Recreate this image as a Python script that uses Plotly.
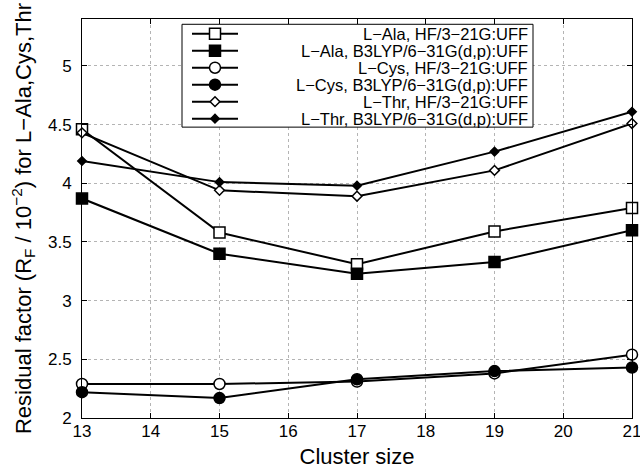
import plotly.graph_objects as go

cluster_size = [13, 15, 17, 19, 21]

ala_hf = [4.46, 3.58, 3.31, 3.59, 3.79]
ala_b3lyp = [3.87, 3.40, 3.23, 3.33, 3.60]
cys_hf = [2.29, 2.29, 2.31, 2.38, 2.54]
cys_b3lyp = [2.22, 2.17, 2.33, 2.40, 2.43]
thr_hf = [4.43, 3.94, 3.89, 4.11, 4.51]
thr_b3lyp = [4.19, 4.01, 3.98, 4.27, 4.61]

series_names = [
    "L\u2212Ala, HF/3\u221221G:UFF",
    "L\u2212Ala, B3LYP/6\u221231G(d,p):UFF",
    "L\u2212Cys, HF/3\u221221G:UFF",
    "L\u2212Cys, B3LYP/6\u221231G(d,p):UFF",
    "L\u2212Thr, HF/3\u221221G:UFF",
    "L\u2212Thr, B3LYP/6\u221231G(d,p):UFF",
]
series_values = [ala_hf, ala_b3lyp, cys_hf, cys_b3lyp, thr_hf, thr_b3lyp]

x_ticks = list(range(13, 22))
y_ticks = [2, 2.5, 3, 3.5, 4, 4.5, 5]

# marker styles (symbol, fill, size)
styles = [
    ("square", "white", 11),
    ("square", "black", 11),
    ("circle", "white", 11),
    ("circle", "black", 11),
    ("diamond", "white", 7.5),
    ("diamond", "black", 6.5),
]

FONT = "Liberation Sans, Arial, Helvetica, sans-serif"

fig = go.Figure()
for name, vals, (sym, fill, size) in zip(series_names, series_values, styles):
    fig.add_trace(go.Scatter(
        x=cluster_size, y=vals, name=name, mode="lines+markers",
        line=dict(color="black", width=2),
        marker=dict(symbol=sym, size=size, color=fill,
                    line=dict(color="black", width=1.5)),
        showlegend=False, cliponaxis=False,
    ))

# custom MATLAB-style legend (right-aligned text) drawn on an overlay axis in [0,1]
W, H = 550.0, 399.6
def px(xp):
    return (xp - 82.0) / W
def py(yp):
    return (418.3 - yp) / H

leg_x0, leg_x1 = px(182), px(533)
leg_y0, leg_y1 = py(127), py(24)
seg_l, seg_m, seg_r = px(192), px(215), px(238)
text_right = px(530)
rows = [py(33.5 + 17 * k) for k in range(6)]

# legend box (white filled, black outline) on the overlay axis
fig.add_trace(go.Scatter(
    x=[leg_x0, leg_x1, leg_x1, leg_x0, leg_x0],
    y=[leg_y0, leg_y0, leg_y1, leg_y1, leg_y0],
    xaxis="x2", yaxis="y2", mode="lines", fill="toself",
    fillcolor="white", line=dict(color="black", width=1),
    showlegend=False, hoverinfo="skip",
))

for name, row, (sym, fill, size) in zip(series_names, rows, styles):
    fig.add_trace(go.Scatter(
        x=[seg_l, seg_r], y=[row, row], xaxis="x2", yaxis="y2",
        mode="lines", line=dict(color="black", width=2),
        showlegend=False, hoverinfo="skip",
    ))
    fig.add_trace(go.Scatter(
        x=[seg_m], y=[row], xaxis="x2", yaxis="y2",
        mode="markers",
        marker=dict(symbol=sym, size=size, color=fill,
                    line=dict(color="black", width=1.5)),
        showlegend=False, hoverinfo="skip",
    ))
    fig.add_annotation(x=text_right, y=row, xref="x2", yref="y2",
                       text=name, showarrow=False, xanchor="right",
                       yanchor="middle",
                       font=dict(family=FONT, size=16.5, color="black"))

axis_common = dict(
    showline=True, linecolor="black", linewidth=1, mirror="ticks",
    ticks="inside", ticklen=5, tickcolor="black", tickwidth=1,
    showgrid=True, gridcolor="#b4b4b4", griddash="dot", gridwidth=1,
    zeroline=False, tickfont=dict(family=FONT, size=17, color="black"),
)

fig.update_layout(
    width=640, height=469,
    margin=dict(l=82, r=8, t=19, b=51, autoexpand=False),
    paper_bgcolor="white", plot_bgcolor="white",
    font=dict(family=FONT, color="black"),
    xaxis=dict(range=[13, 21], tickvals=x_ticks, ticklabelstandoff=-2,
               ticklabeloverflow="allow",
               title=dict(text="Cluster size", standoff=10,
                          font=dict(family=FONT, size=22)),
               **axis_common),
    yaxis=dict(range=[2, 5.4], tickvals=y_ticks, ticklabelstandoff=6,
               title=dict(text="Residual factor (R<sub>F</sub> / 10<sup>\u22122</sup>) for L\u2212Ala,Cys,Thr",
                          standoff=10, font=dict(family=FONT, size=22)),
               **axis_common),
    xaxis2=dict(overlaying="x", range=[0, 1], visible=False, fixedrange=True),
    yaxis2=dict(overlaying="y", anchor="x2", range=[0, 1], visible=False,
                fixedrange=True),
    showlegend=False,
)

fig.write_html("out.html")
